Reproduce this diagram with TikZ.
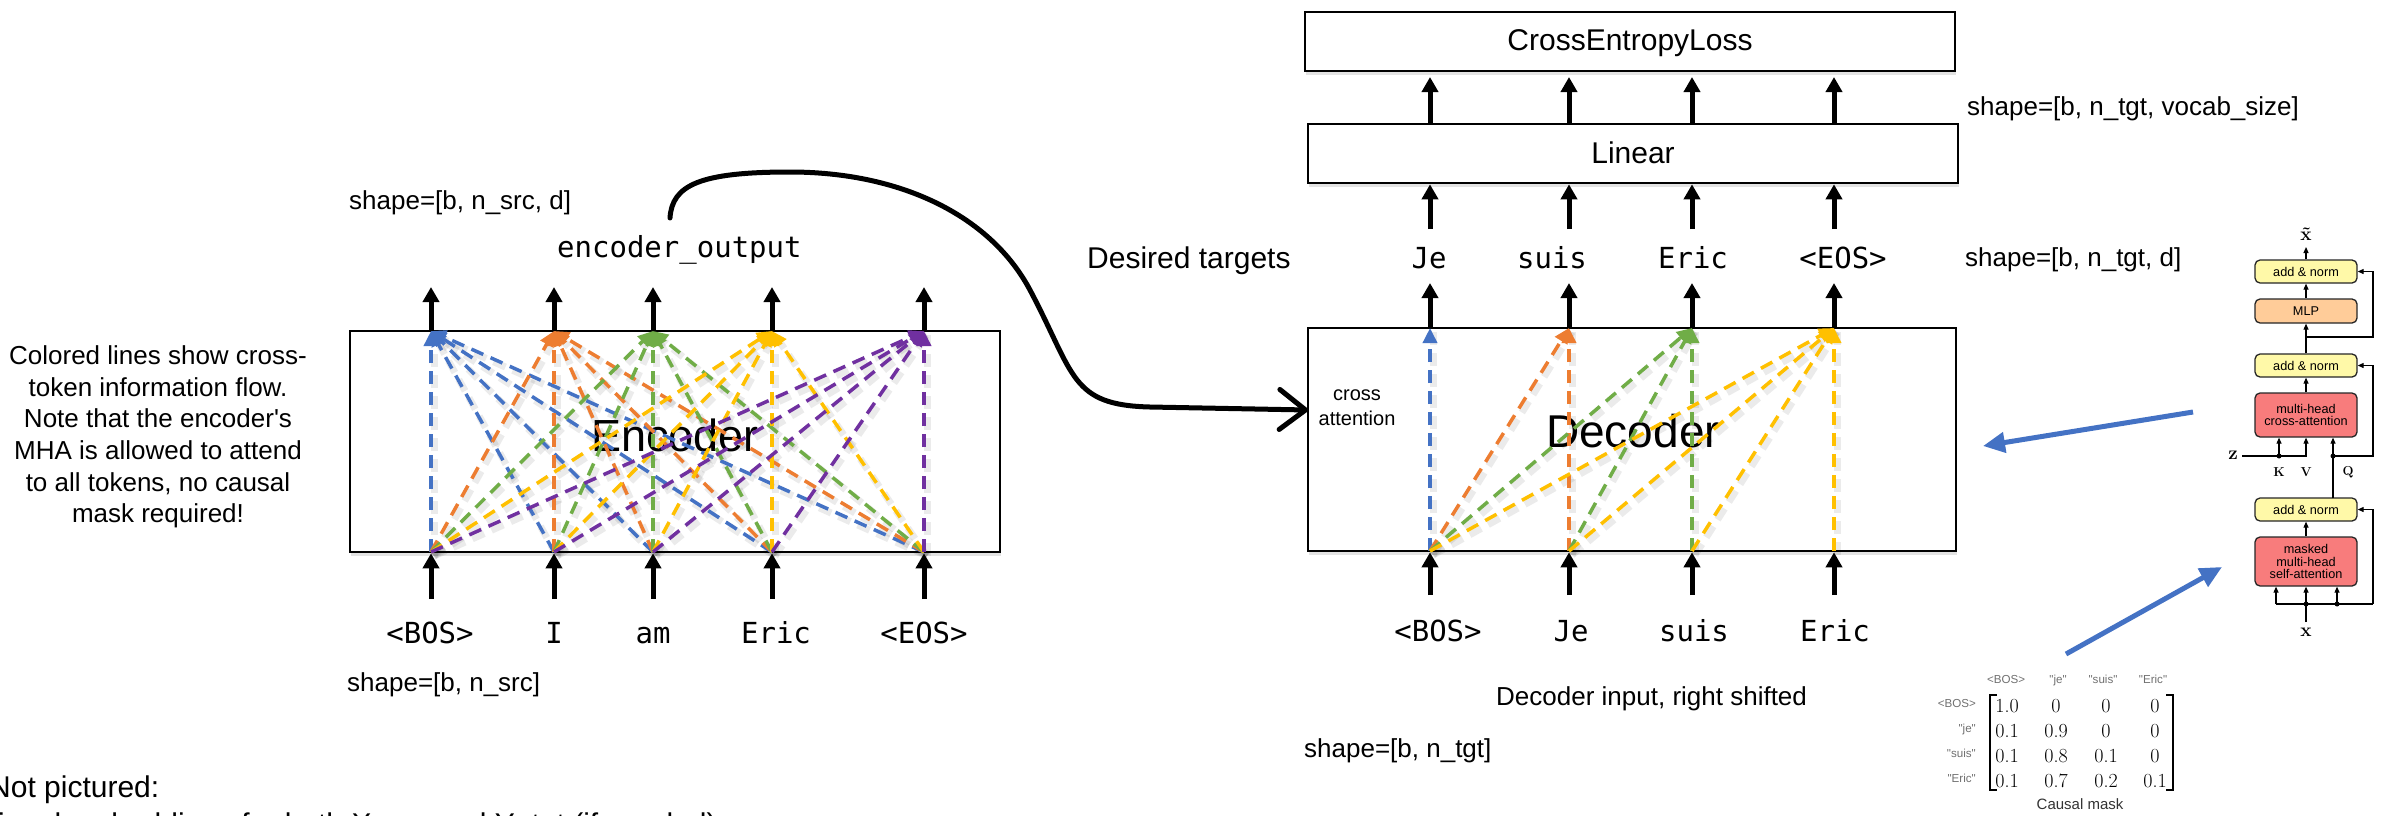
\documentclass[tikz,border=0pt]{standalone}
\usepackage{fontspec}
\newfontfamily\sans{Liberation Sans}
\newfontfamily\codefont{DejaVu Sans Mono}
\usetikzlibrary{arrows.meta,shadows}

\definecolor{cblue}{HTML}{4472C4}
\definecolor{corange}{HTML}{ED7D31}
\definecolor{cgreen}{HTML}{70AD47}
\definecolor{cyellow}{HTML}{FFC000}
\definecolor{cpurple}{HTML}{7030A0}
\definecolor{normfill}{HTML}{FFF9A8}
\definecolor{mlpfill}{HTML}{FFCC99}
\definecolor{attfill}{HTML}{F87C7C}
\definecolor{hdrgray}{HTML}{707070}

\begin{document}
\begin{tikzpicture}[x=1pt,y=-1pt,
  lbl/.style={font=\sans\fontsize{26}{31.6}\selectfont, inner sep=0pt},
  biglbl/.style={font=\sans\fontsize{30}{36}\selectfont, inner sep=0pt},
  tok/.style={font=\codefont\fontsize{29}{34}\selectfont, inner sep=0pt},
  blk/.style={line width=5pt, -{Triangle[width=16pt,length=15pt]}},
  bigbox/.style={draw, line width=2.6pt, fill=white, inner sep=0pt,
    drop shadow={shadow xshift=1pt, shadow yshift=-4pt, opacity=0.22}},
  att/.style={line width=3.5pt, dash pattern=on 13pt off 8pt,
    -{Triangle[width=14pt,length=15pt]}},
  attshade/.style={line width=7pt, dash pattern=on 13pt off 8pt, black, opacity=0.08},
  curvy/.style={line width=5pt, line cap=round, line join=round,
    -{Straight Barb[length=26pt,width=40pt,round]}},
  bluearrow/.style={line width=5pt, cblue, -{Triangle[width=20pt,length=22pt]}},
  nbox/.style={draw=black!85, line width=1.3pt, rounded corners=5pt, minimum width=102pt,
    inner sep=0pt, align=center, font=\sans\fontsize{12.7}{12.3}\selectfont},
  sm/.style={line width=1.1pt, -{Triangle[width=5pt,length=6pt]}},
  thin/.style={line width=1.1pt},
  dot/.style={circle, fill=black, inner sep=0pt, minimum size=5pt},
  mathlbl/.style={inner sep=0pt, font=\rmfamily\bfseries\fontsize{19}{19}\selectfont},
  caplbl/.style={inner sep=0pt, font=\rmfamily\bfseries\fontsize{13}{13}\selectfont},
  hdr/.style={inner sep=0pt, text=hdrgray, font=\sans\fontsize{11.6}{12}\selectfont},
  cell/.style={inner sep=0pt, font=\rmfamily\fontsize{20}{20}\selectfont},
]
\useasboundingbox (0,0) rectangle (2392,815);

% ---------------- main boxes ----------------
\node[bigbox, minimum width=650pt, minimum height=221pt] (enc) at (675,441.5) {};
\node[bigbox, minimum width=648pt, minimum height=223pt] (dec) at (1632,439.5) {};
\node[bigbox, minimum width=650pt, minimum height=59pt] (lin) at (1633,153.5) {};
\node[bigbox, minimum width=650pt, minimum height=59pt] (cel) at (1630,41.5) {};

\node[font=\sans\fontsize{45}{50}\selectfont, inner sep=0pt, anchor=base] (enctxt) at (675,451) {Encoder};
\node[font=\sans\fontsize{46}{50}\selectfont, inner sep=0pt, anchor=base] (dectxt) at (1633,447) {Decoder};
\node[biglbl, anchor=base] (lintxt) at (1633,163) {Linear};
\node[biglbl, anchor=base] (celtxt) at (1630,50) {CrossEntropyLoss};
\node[font=\sans\fontsize{20}{25}\selectfont, inner sep=0pt, align=center] (xatt) at (1357,408) {cross\\attention};

% ---------------- column anchors ----------------
\foreach \k/\x in {1/431,2/554,3/653,4/772,5/924} {
  \coordinate (et\k) at (\x,331);
  \coordinate (eb\k) at (\x,552);
  \coordinate (eo\k) at (\x,287);
  \coordinate (es\k) at (\x,599);
}
\foreach \k/\x in {1/1430,2/1569,3/1692,4/1834} {
  \coordinate (dt\k) at (\x,328);
  \coordinate (db\k) at (\x,551);
  \coordinate (do\k) at (\x,283);
  \coordinate (ds\k) at (\x,595);
  \coordinate (tb\k) at (\x,229);
  \coordinate (lt\k) at (\x,124);
  \coordinate (cb\k) at (\x,77);
}

% ---------------- encoder: full attention ----------------
\foreach \j in {1,...,5} \foreach \i in {1,...,5}
  \draw[attshade] ([shift={(3,4)}]eb\i) -- ([shift={(3,4)}]et\j);
\foreach \j/\c in {1/cblue,2/corange,3/cgreen,4/cyellow,5/cpurple}
  \foreach \i in {1,...,5}
    \draw[att, \c] (eb\i) -- (et\j);

% ---------------- decoder: causal attention ----------------
\foreach \j in {1,...,4} \foreach \i in {1,...,\j}
  \draw[attshade] ([shift={(3,4)}]db\i) -- ([shift={(3,4)}]dt\j);
\foreach \j/\c in {1/cblue,2/corange,3/cgreen,4/cyellow}
  \foreach \i in {1,...,\j}
    \draw[att, \c] (db\i) -- (dt\j);

% ---------------- tokens ----------------
\node[tok, anchor=base] (ei1) at (430,643) {<BOS>};
\node[tok, anchor=base] (ei2) at (554,643) {I};
\node[tok, anchor=base] (ei3) at (653,643) {am};
\node[tok, anchor=base] (ei4) at (776,643) {Eric};
\node[tok, anchor=base] (ei5) at (924,643) {<EOS>};

\node[tok, anchor=base] (di1) at (1438,641) {<BOS>};
\node[tok, anchor=base] (di2) at (1571,641) {Je};
\node[tok, anchor=base] (di3) at (1694,641) {suis};
\node[tok, anchor=base] (di4) at (1835,641) {Eric};

\node[tok, anchor=base] (tg1) at (1429,268) {Je};
\node[tok, anchor=base] (tg2) at (1552,268) {suis};
\node[tok, anchor=base] (tg3) at (1693,268) {Eric};
\node[tok, anchor=base] (tg4) at (1843,268) {<EOS>};

\node[tok, anchor=base west] (eout) at (557,257) {encoder\_output};

% ---------------- black flow arrows ----------------
\foreach \k in {1,...,5} {
  \draw[blk] (es\k) -- (es\k |- enc.south);
  \draw[blk] (et\k) -- (eo\k);
}
\foreach \k in {1,...,4} {
  \draw[blk] (ds\k) -- (ds\k |- dec.south);
  \draw[blk] (dt\k) -- (do\k);
  \draw[blk] (tb\k) -- (tb\k |- lin.south);
  \draw[blk] (lt\k) -- (cb\k);
}

% ---------------- encoder output to cross attention ----------------
\coordinate (eostart) at (670,218);
\coordinate (cain) at (1308,410);
\draw[curvy] (eostart) .. controls (672,185) and (700,172) .. (790,172)
  .. controls (900,172) and (990,215) .. (1030,290)
  .. controls (1075,375) and (1070,405) .. (1150,407) -- (cain);

% ---------------- text labels ----------------
\node[lbl, anchor=base west] (shsrcd) at (349,209) {shape=[b, n\_src, d]};
\node[lbl, anchor=base west] (shsrc) at (347,691) {shape=[b, n\_src]};
\node[lbl, anchor=base west] (shtgtv) at (1967,115) {shape=[b, n\_tgt, vocab\_size]};
\node[lbl, anchor=base west] (shtgtd) at (1965,266) {shape=[b, n\_tgt, d]};
\node[lbl, anchor=base west] (shtgt) at (1304,757) {shape=[b, n\_tgt]};
\node[lbl, anchor=base west] (decin) at (1496,705) {Decoder input, right shifted};
\node[biglbl, anchor=base west] (desired) at (1087,268) {Desired targets};
\node[lbl, align=center] (note) at (158,437) {Colored lines show cross-\\token information flow.\\Note that the encoder's\\MHA is allowed to attend\\to all tokens, no causal\\mask required!};
\node[biglbl, anchor=base west] (notpic) at (-11,797) {Not pictured:};
\node[biglbl, anchor=base east] (notpic2) at (717,834) {Positional embeddings for both X\_src and Y\_tgt (if needed)};

% ---------------- decoder block detail ----------------
\node[nbox, fill=normfill, minimum height=23pt] (an3) at (2306,271.5) {add \& norm};
\node[nbox, fill=mlpfill, minimum height=24pt] (mlp) at (2306,311) {MLP};
\node[nbox, fill=normfill, minimum height=23pt] (an2) at (2306,365.5) {add \& norm};
\node[nbox, fill=attfill, minimum height=44pt] (xa) at (2306,415) {multi-head\\cross-attention};
\node[nbox, fill=normfill, minimum height=23pt] (an1) at (2306,509.5) {add \& norm};
\node[nbox, fill=attfill, minimum height=49pt] (sa) at (2306,561.5) {masked\\multi-head\\self-attention};

\node[mathlbl] (xt) at (2306,234) {\~{x}};
\coordinate (xttip) at (2306,247);
\draw[sm] (an3.north) -- (xttip);
\draw[sm] (mlp.north) -- (an3.south);
\draw[sm] (an2.north) -- (mlp.south);
\coordinate (r2) at (2306,337);
\draw[sm] (r2) -- ++(67,0) |- (an3.east);
\draw[sm] (xa.north) -- (an2.south);

\coordinate (zl) at (2242,456);
\coordinate (kd) at (2279,456);
\coordinate (qd) at (2333,456);
\coordinate (qb) at (2333,498);
\draw[sm] (zl) -| (xa.south);
\draw[sm] (kd) -- (kd |- xa.south);
\draw[sm] (qb) -- (qb |- xa.south);
\draw[sm] (qd) -- ++(40,0) |- (an2.east);
\node[dot] (kdot) at (kd) {};
\node[dot] (qdot) at (qd) {};
\node[mathlbl, anchor=east] (zlab) at (2238,455) {z};
\node[caplbl] (klab) at (2279,472) {K};
\node[caplbl] (vlab) at (2306,472) {V};
\node[caplbl] (qlab) at (2348,472) {Q};

\draw[sm] (sa.north) -- (an1.south);
\coordinate (xin) at (2306,622);
\coordinate (bl) at (2276,604);
\coordinate (bm) at (2306,604);
\coordinate (bq) at (2337,604);
\coordinate (br) at (2373,604);
\draw[thin] (xin) -- (bm);
\draw[thin] (bl) -- (br);
\draw[sm] (bl) -- (bl |- sa.south);
\draw[sm] (bm) -- (bm |- sa.south);
\draw[sm] (bq) -- (bq |- sa.south);
\draw[sm] (br) |- (an1.east);
\node[dot] (bmdot) at (bm) {};
\node[dot] (bqdot) at (bq) {};
\node[mathlbl] (xlab) at (2306,632) {x};

% ---------------- pointers ----------------
\coordinate (p1s) at (2193,412);
\coordinate (p1e) at (1983,446);
\coordinate (p2s) at (2066,654);
\coordinate (p2e) at (2222,567);
\draw[bluearrow] (p1s) -- (p1e);
\draw[bluearrow] (p2s) -- (p2e);

% ---------------- causal mask ----------------
\node[hdr, anchor=base] (ch1) at (2006,683) {<BOS>};
\node[hdr, anchor=base] (ch2) at (2058,683) {"je"};
\node[hdr, anchor=base] (ch3) at (2103,683) {"suis"};
\node[hdr, anchor=base] (ch4) at (2153,683) {"Eric"};
\node[hdr, anchor=base east] (rh1) at (1976,707) {<BOS>};
\node[hdr, anchor=base east] (rh2) at (1976,732) {"je"};
\node[hdr, anchor=base east] (rh3) at (1976,757) {"suis"};
\node[hdr, anchor=base east] (rh4) at (1976,782) {"Eric"};

\foreach \r/\y/\a/\b/\c/\d in {1/712/1.0/0/0/0, 2/737/0.1/0.9/0/0, 3/762/0.1/0.8/0.1/0, 4/787/0.1/0.7/0.2/0.1} {
  \node[cell, anchor=base] (m\r a) at (2007,\y) {\a};
  \node[cell, anchor=base] (m\r b) at (2056,\y) {\b};
  \node[cell, anchor=base] (m\r c) at (2106,\y) {\c};
  \node[cell, anchor=base] (m\r d) at (2155,\y) {\d};
}
\draw[line width=1.6pt] (1997,695) -- (1990,695) -- (1990,790) -- (1997,790);
\draw[line width=1.6pt] (2166,695) -- (2173,695) -- (2173,790) -- (2166,790);
\node[inner sep=0pt, anchor=base, text=black!80, font=\sans\fontsize{15}{15}\selectfont] (cmask) at (2080,809) {Causal mask};

\end{tikzpicture}
\end{document}
